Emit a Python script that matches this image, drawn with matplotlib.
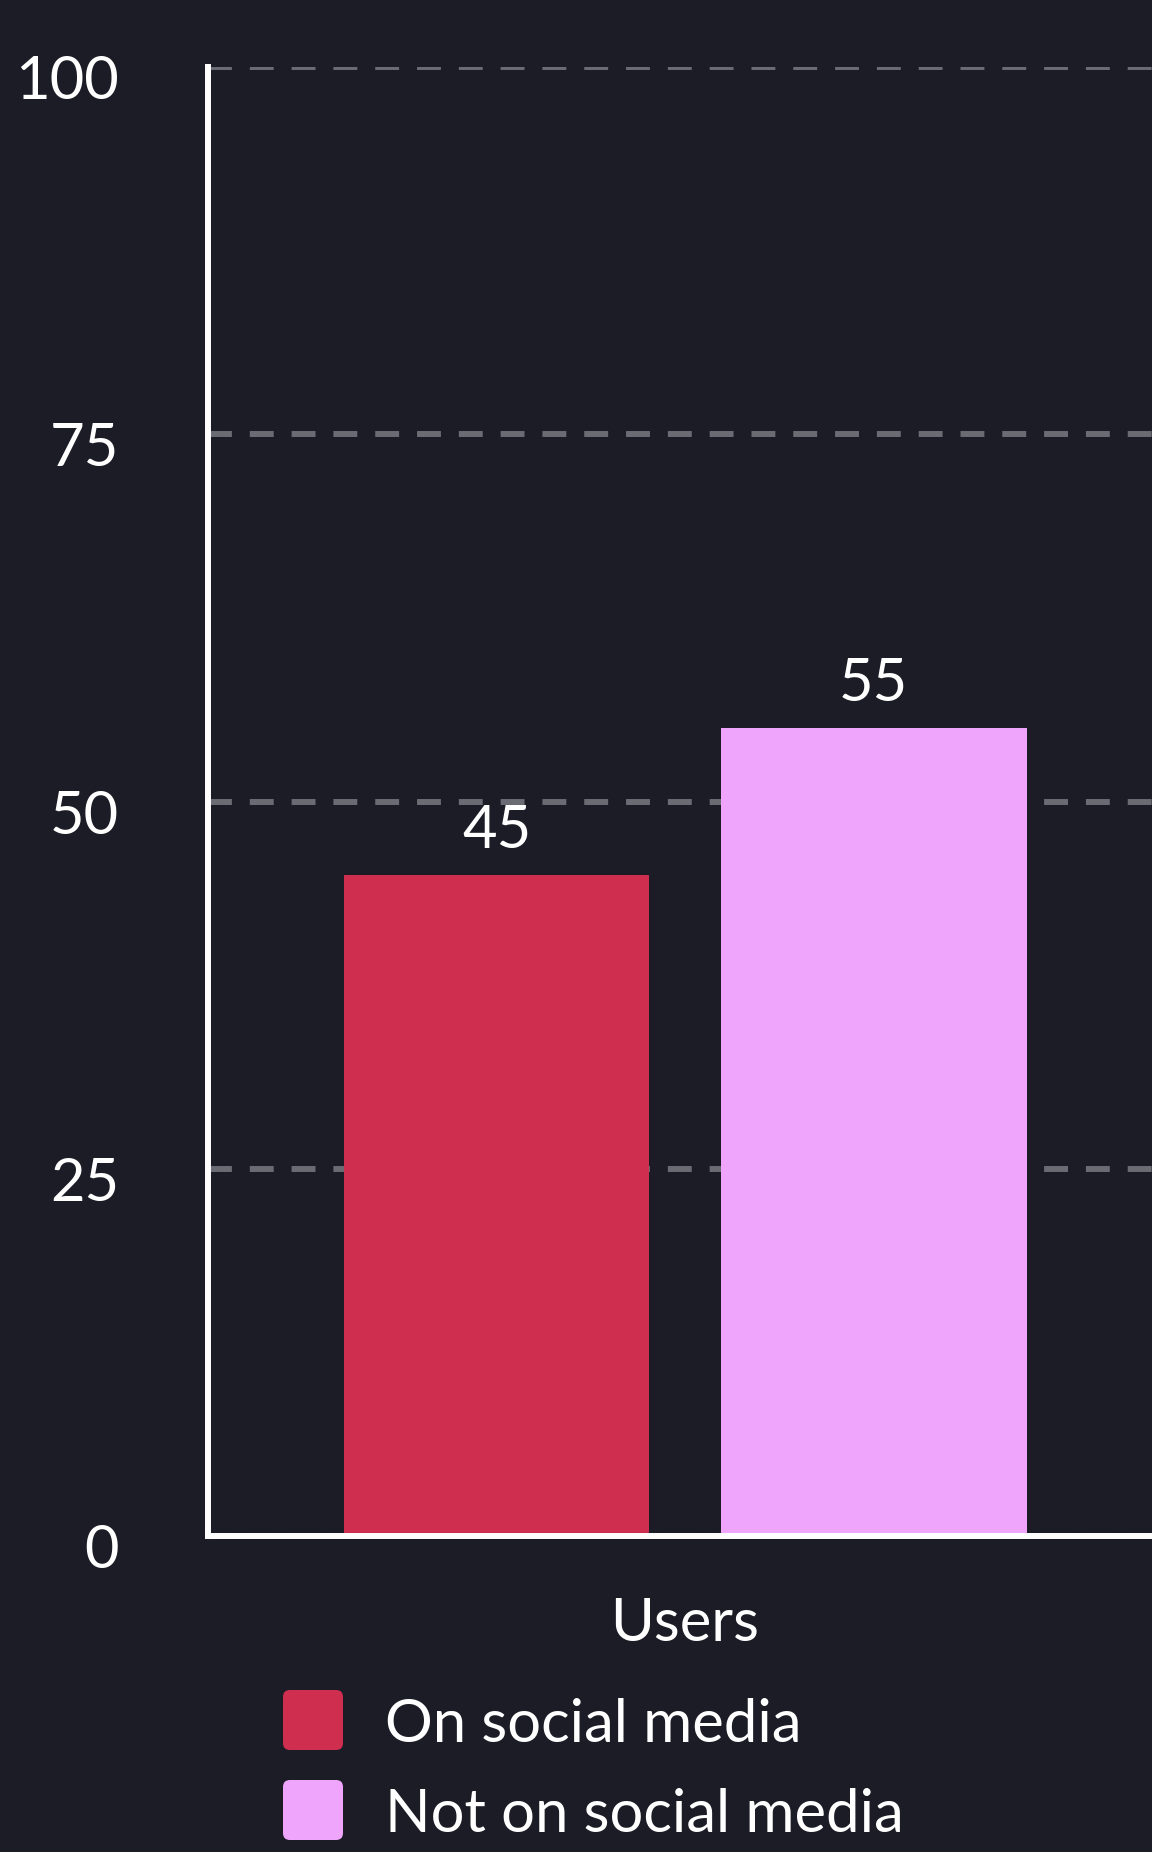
import matplotlib.pyplot as plt
from matplotlib.patches import FancyBboxPatch
import matplotlib.transforms as mtransforms

# data
category = "Users"
series = ["On social media", "Not on social media"]
values = [45, 55]
colors = ["#CF2E4F", "#F0A5FC"]
yticks = [0, 25, 50, 75, 100]

bg = "#1C1C26"
W, H = 1152, 1852

plt.rcParams['font.family'] = ['Lato', 'DejaVu Sans']

fig = plt.figure(figsize=(W / 100, H / 100), dpi=100, facecolor=bg)
ax = fig.add_axes([208 / W, 1 - 1536 / H, 1 - 208 / W, (1536 - 67) / H])
ax.set_facecolor(bg)

bar_w = 0.3
gap = 0.07
offsets = [-(bar_w + gap) / 2, (bar_w + gap) / 2]

for i, (name, v, c) in enumerate(zip(series, values, colors)):
    ax.bar(offsets[i], v, width=bar_w, color=c, zorder=3)
    ax.annotate(str(v), (offsets[i], v), xytext=(0, 12), textcoords="offset points",
                ha="center", va="bottom", color="white", fontsize=43)

ax.set_xlim(-0.468, 0.458)
ax.set_ylim(0, 100)
ax.set_yticks(yticks)
ax.set_yticklabels([str(t) for t in yticks])
ax.set_xticks([0])
ax.set_xticklabels([category])

ax.grid(axis="y", color="#6A6B73", linewidth=4.3, linestyle=(0, (4.0, 3.0)), zorder=0)
ax.tick_params(axis="y", length=0, pad=64, labelsize=43, labelcolor="white")
ax.tick_params(axis="x", length=0, pad=44, labelsize=43, labelcolor="white")

for lab in ax.get_yticklabels():
    lab.set_transform(lab.get_transform() + mtransforms.ScaledTranslation(0, -10 / 100, fig.dpi_scale_trans))

for s in ["top", "right"]:
    ax.spines[s].set_visible(False)
for s in ["left", "bottom"]:
    ax.spines[s].set_color("white")
    ax.spines[s].set_linewidth(4.3)
    ax.spines[s].set_zorder(4)

# legend drawn by hand with rounded swatches
rows_y = [1720, 1810]
for name, c, yy in zip(series, colors, rows_y):
    sw = FancyBboxPatch((283 / W, 1 - (yy + 30) / H), 60 / W, 60 / H,
                        boxstyle="round,pad=0,rounding_size=0.006",
                        transform=fig.transFigure, facecolor=c, edgecolor="none",
                        mutation_aspect=W / H)
    fig.patches.append(sw)
    fig.text(385 / W, 1 - yy / H, name, color="white", fontsize=43, va="center_baseline", ha="left")

fig.savefig("out.png", dpi=100, facecolor=bg)
